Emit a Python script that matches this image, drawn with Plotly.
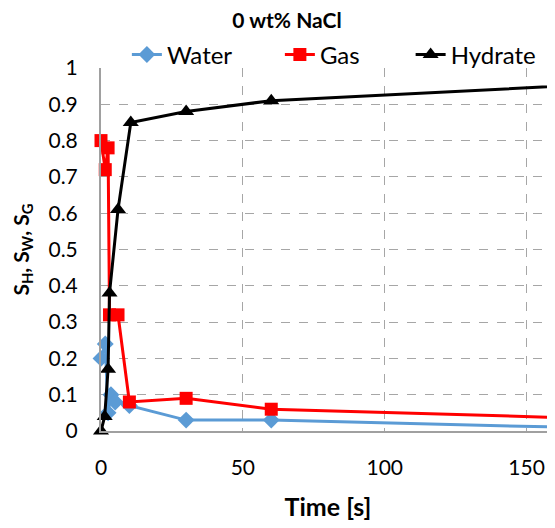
import plotly.graph_objects as go

# Data
water_t = [0, 1.5, 2.5, 3.5, 5, 10, 30, 60, 180]
water_s = [0.20, 0.24, 0.05, 0.10, 0.08, 0.07, 0.03, 0.03, 0.007]

gas_t = [0, 1.5, 2.5, 3, 6, 10, 30, 60, 180]
gas_s = [0.80, 0.72, 0.78, 0.32, 0.32, 0.08, 0.09, 0.06, 0.033]

hyd_t = [0, 1.3, 2.5, 3, 6, 10.5, 30, 60, 180]
hyd_s = [0.0, 0.04, 0.17, 0.38, 0.61, 0.85, 0.88, 0.91, 0.957]

x_ticks = [0, 50, 100, 150]
y_ticks = [0, 0.1, 0.2, 0.3, 0.4, 0.5, 0.6, 0.7, 0.8, 0.9, 1]
y_labels = ["0", "0.1", "0.2", "0.3", "0.4", "0.5", "0.6", "0.7", "0.8", "0.9", "1"]

FONT = "Lato, 'Open Sans', sans-serif"

fig = go.Figure()
fig.add_trace(go.Scatter(x=water_t, y=water_s, name="Water", mode="lines+markers",
                         line=dict(color="#5B9BD5", width=3),
                         marker=dict(symbol="diamond", size=13, color="#5B9BD5"),
                         cliponaxis=False, legend="legend"))
fig.add_trace(go.Scatter(x=gas_t, y=gas_s, name="Gas", mode="lines+markers",
                         line=dict(color="#FF0000", width=3),
                         marker=dict(symbol="square", size=13, color="#FF0000"),
                         cliponaxis=False, legend="legend2"))
fig.add_trace(go.Scatter(x=hyd_t, y=hyd_s, name="Hydrate", mode="lines+markers",
                         line=dict(color="#000000", width=3),
                         marker=dict(symbol="triangle-up", size=14, color="#000000"),
                         cliponaxis=False, legend="legend3"))

leg_common = dict(orientation="h", xanchor="left", y=1.036, yanchor="middle",
                  font=dict(family=FONT, size=24), bgcolor="rgba(0,0,0,0)")

fig.update_layout(
    width=547, height=520,
    margin=dict(l=93, r=0, t=60, b=97, autoexpand=False),
    paper_bgcolor="white", plot_bgcolor="white",
    font=dict(family=FONT, size=21, color="#000000"),
    title=dict(text="<b>0 wt% NaCl</b>", x=0.51, xanchor="center", y=0.976, yanchor="middle",
               font=dict(family=FONT, size=21, color="#000000")),
    legend=dict(x=0.057, **leg_common),
    legend2=dict(x=0.394, **leg_common),
    legend3=dict(x=0.682, **leg_common),
    showlegend=True,
)
fig.update_xaxes(range=[0, 160], tickvals=x_ticks, ticks="", showgrid=True, automargin=False,
                 gridcolor="#A6A6A6", griddash="dash", gridwidth=1,
                 showline=True, linecolor="#A0A0A0", linewidth=2, zeroline=False,
                 tickfont=dict(family=FONT, size=21), ticklabelstandoff=17,
                 title=dict(text="<b>Time [s]</b>", font=dict(family=FONT, size=25), standoff=20))
fig.update_yaxes(range=[0, 1], tickvals=y_ticks, ticktext=y_labels, ticks="", showgrid=True,
                 automargin=False,
                 gridcolor="#A6A6A6", griddash="dash", gridwidth=1,
                 showline=True, linecolor="#A0A0A0", linewidth=2, zeroline=False,
                 tickfont=dict(family=FONT, size=21), ticklabelstandoff=17,
                 title=dict(text="<b>S<sub>H</sub>, S<sub>W</sub>, S<sub>G</sub></b>",
                            font=dict(family=FONT, size=21), standoff=15))

fig.write_html("out.html")
